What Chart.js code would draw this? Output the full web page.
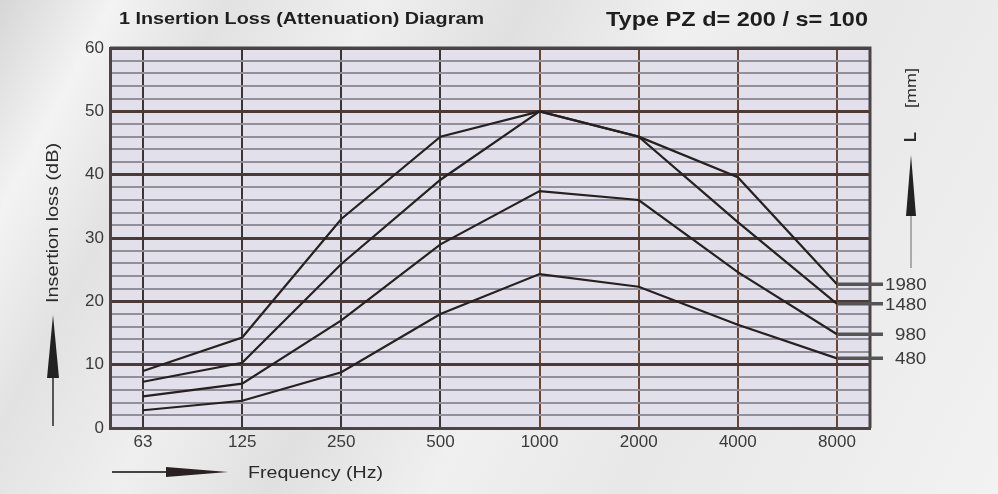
<!DOCTYPE html>
<html>
<head>
<meta charset="utf-8">
<title>Insertion Loss Diagram</title>
<script src="https://cdn.jsdelivr.net/npm/chart.js@4.4.1/dist/chart.umd.min.js"></script>
<style>
  html, body { margin: 0; padding: 0; }
  body {
    width: 998px; height: 494px; overflow: hidden;
    background: linear-gradient(118deg, #d6d6d6 0%, #f3f3f3 9%, #e2e2e2 18%, #efefef 30%, #e0e0e0 42%, #f0f0f0 55%, #e8e8e8 70%, #f2f2f2 100%);
  }
  #wrap { position: relative; width: 998px; height: 494px; }
</style>
</head>
<body>
<div id="wrap"><canvas id="lossChart" width="998" height="494"></canvas></div>
<script>
const frequencies = ['63', '125', '250', '500', '1000', '2000', '4000', '8000'];
const lengths = ['1980', '1480', '980', '480'];

const loss1980 = [9.0, 14.3, 33.0, 46.0, 50.0, 46.0, 39.6, 22.7];
const loss1480 = [7.3, 10.3, 25.9, 39.2, 50.0, 46.0, 32.5, 19.6];
const loss980  = [5.0, 7.0, 17.0, 29.0, 37.4, 36.0, 24.6, 14.8];
const loss480  = [2.8, 4.3, 8.8, 18.0, 24.3, 22.3, 16.3, 11.0];

const seriesValues = [loss1980, loss1480, loss980, loss480];
const yTicks = [0, 10, 20, 30, 40, 50, 60];

const FONT = '"Liberation Sans", Arial, sans-serif';

// lavender plot area behind the grid
const plotBackground = {
    id: 'plotBackground',
    beforeDraw(chart) {
        const { ctx, chartArea: a } = chart;
        ctx.save();
        ctx.fillStyle = '#e2e0ea';
        ctx.fillRect(a.left, a.top, a.right - a.left, a.bottom - a.top);
        ctx.restore();
    }
};

function arrowHead(ctx, tipX, tipY, baseX, baseY, halfW) {
    const dx = baseX - tipX, dy = baseY - tipY;
    const len = Math.hypot(dx, dy);
    const nx = -dy / len * halfW, ny = dx / len * halfW;
    ctx.beginPath();
    ctx.moveTo(tipX, tipY);
    ctx.lineTo(baseX + nx, baseY + ny);
    ctx.lineTo(baseX - nx, baseY - ny);
    ctx.closePath();
    ctx.fill();
}

// text stretched sideways to a given width (the lettering is wide)
function wideText(ctx, text, x, y, width, align) {
    const w = ctx.measureText(text).width;
    const k = width / w;
    ctx.save();
    ctx.translate(x, y);
    ctx.scale(k, 1);
    ctx.textAlign = align || 'left';
    ctx.fillText(text, 0, 0);
    ctx.restore();
}

// titles, axis captions, arrows and the length labels on the right
const annotations = {
    id: 'annotations',
    afterDraw(chart) {
        const { ctx, chartArea: a, scales } = chart;
        ctx.save();

        // frame on top and right
        ctx.strokeStyle = '#4a4444';
        ctx.lineWidth = 3;
        ctx.beginPath();
        ctx.moveTo(a.left, a.top);
        ctx.lineTo(a.right, a.top);
        ctx.lineTo(a.right, a.bottom);
        ctx.stroke();

        ctx.fillStyle = '#1e1e1e';
        ctx.textBaseline = 'middle';
        ctx.font = 'bold 16px ' + FONT;
        wideText(ctx, '1 Insertion Loss (Attenuation) Diagram', 119, 20, 365, 'left');
        ctx.font = 'bold 21px ' + FONT;
        wideText(ctx, 'Type PZ d= 200 / s= 100', 868, 20, 262, 'right');

        // leaders from the 8000 Hz end points to the length labels
        const xEnd = scales.x.getPixelForValue(frequencies.length - 1);
        ctx.font = '17px ' + FONT;
        seriesValues.forEach((vals, i) => {
            const y = scales.y.getPixelForValue(vals[vals.length - 1]);
            ctx.strokeStyle = '#555';
            ctx.lineWidth = 3.5;
            ctx.beginPath();
            ctx.moveTo(xEnd, y);
            ctx.lineTo(883, y);
            ctx.stroke();
            ctx.fillStyle = '#3a3a3a';
            const n = lengths[i].length;
            wideText(ctx, lengths[i], n > 3 ? 885 : 895, y + 1, n * 10.4, 'left');
        });

        // y caption with arrow
        ctx.fillStyle = '#2a2a2a';
        ctx.save();
        ctx.translate(54, 223);
        ctx.rotate(-Math.PI / 2);
        ctx.font = '16px ' + FONT;
        wideText(ctx, 'Insertion loss (dB)', 0, 0, 160, 'center');
        ctx.restore();
        ctx.strokeStyle = '#333';
        ctx.lineWidth = 1.6;
        ctx.beginPath();
        ctx.moveTo(53, 426);
        ctx.lineTo(53, 330);
        ctx.stroke();
        ctx.fillStyle = '#222';
        arrowHead(ctx, 53, 315, 53, 378, 6);

        // x caption with arrow
        ctx.strokeStyle = '#444';
        ctx.lineWidth = 2;
        ctx.beginPath();
        ctx.moveTo(112, 472);
        ctx.lineTo(170, 472);
        ctx.stroke();
        ctx.fillStyle = '#2a2222';
        arrowHead(ctx, 228, 472, 166, 472, 5);
        ctx.fillStyle = '#2a2a2a';
        ctx.font = '17px ' + FONT;
        wideText(ctx, 'Frequency (Hz)', 248, 473, 135, 'left');

        // length caption on the right
        ctx.save();
        ctx.translate(912, 88);
        ctx.rotate(-Math.PI / 2);
        ctx.font = '15px ' + FONT;
        wideText(ctx, '[mm]', 0, 0, 40, 'center');
        ctx.restore();
        ctx.save();
        ctx.translate(911, 137);
        ctx.rotate(-Math.PI / 2);
        ctx.textAlign = 'center';
        ctx.font = 'bold 17px ' + FONT;
        ctx.fillText('L', 0, 0);
        ctx.restore();
        ctx.strokeStyle = '#aaa';
        ctx.lineWidth = 2;
        ctx.beginPath();
        ctx.moveTo(911, 268);
        ctx.lineTo(911, 200);
        ctx.stroke();
        ctx.fillStyle = '#222';
        arrowHead(ctx, 911, 155, 911, 216, 5);

        ctx.restore();
    }
};

const lineColor = '#262020';

const data = {
    datasets: seriesValues.map((vals, i) => ({
        label: lengths[i],
        data: vals.map((v, j) => ({ x: j, y: v })),
        borderColor: lineColor,
        borderWidth: 2.2,
        pointRadius: 0,
        tension: 0,
        fill: false
    }))
};

const config = {
    type: 'line',
    data: data,
    options: {
        responsive: false,
        animation: false,
        layout: { padding: { left: 66, right: 128, top: 48, bottom: 34 } },
        plugins: {
            legend: { display: false },
            tooltip: { enabled: false }
        },
        scales: {
            x: {
                type: 'linear',
                min: -1 / 3,
                max: frequencies.length - 1 + 1 / 3,
                afterBuildTicks: scale => {
                    scale.ticks = frequencies.map((_, i) => ({ value: i }));
                },
                afterFit: scale => { scale.height = 32; },
                ticks: {
                    callback: v => frequencies[v],
                    color: '#3a3a3a',
                    font: { family: FONT, size: 17 },
                    padding: 4,
                    maxRotation: 0
                },
                grid: {
                    drawTicks: false,
                    color: c => (c.index >= 4 ? '#6a4532' : '#3b3535'),
                    lineWidth: 2
                },
                border: { color: '#4a4444', width: 3 }
            },
            y: {
                min: 0,
                max: 60,
                afterBuildTicks: scale => {
                    const t = [];
                    for (let v = 0; v <= 60; v += 2) t.push({ value: v });
                    scale.ticks = t;
                },
                afterFit: scale => { scale.width = 44; },
                ticks: {
                    callback: v => (yTicks.includes(v) ? v : ''),
                    color: '#3a3a3a',
                    font: { family: FONT, size: 17 },
                    padding: 6,
                    autoSkip: false
                },
                grid: {
                    drawTicks: false,
                    color: c => (c.tick && c.tick.value % 10 === 0 ? '#4b3a35' : '#918f9a'),
                    lineWidth: c => (c.tick && c.tick.value % 10 === 0 ? 3 : 2)
                },
                border: { color: '#4a4444', width: 3 }
            }
        }
    },
    plugins: [plotBackground, annotations]
};

const lossChart = new Chart(document.getElementById('lossChart'), config);
</script>
</body>
</html>
